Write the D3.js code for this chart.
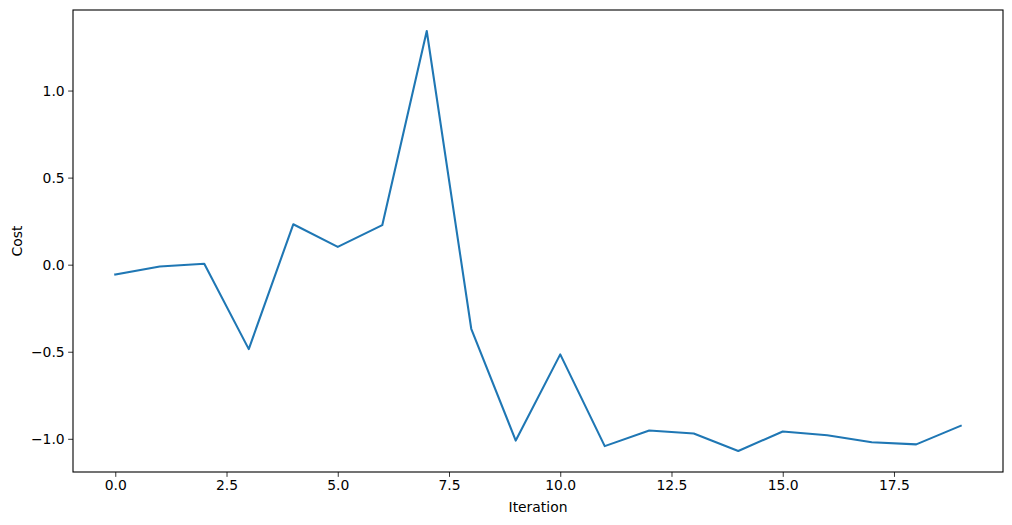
<!DOCTYPE html>
<meta charset="utf-8">
<head>
<style>
  body { margin: 0; background: #fff; }
  svg text { font-family: "DejaVu Sans", sans-serif; fill: #000; }
</style>
</head>
<body>
<div id="vis"></div>
<script src="https://cdn.jsdelivr.net/npm/d3@7"></script>
<script>
// data
var iterations = d3.range(0, 20);
var cost = [-0.056, -0.010, 0.005, -0.485, 0.232, 0.102, 0.227, 1.342, -0.368, -1.010,
            -0.515, -1.042, -0.952, -0.970, -1.070, -0.958, -0.980, -1.020, -1.032, -0.925];
var xTicks = [0, 2.5, 5, 7.5, 10, 12.5, 15, 17.5];
var yTicks = [-1.0, -0.5, 0.0, 0.5, 1.0];

var width = 1012, height = 525;
var margin = {top: 10, left: 73, bottom: 53, right: 9};
var w = width - margin.left - margin.right,
    h = height - margin.top - margin.bottom;

var svg = d3.select("#vis").append("svg")
    .attr("width", width)
    .attr("height", height);

var g = svg.append("g")
    .attr("transform", "translate(" + margin.left + "," + margin.top + ")");

// matplotlib style 5% margins
var xExt = d3.extent(iterations), yExt = d3.extent(cost);
var xPad = (xExt[1] - xExt[0]) * 0.05, yPad = (yExt[1] - yExt[0]) * 0.05;

var x = d3.scaleLinear().domain([xExt[0] - xPad, xExt[1] + xPad]).range([0, w]);
var y = d3.scaleLinear().domain([yExt[0] - yPad, yExt[1] + yPad]).range([h, 0]);

var tickLen = 4.86;

// x axis
var xAxis = g.append("g")
    .attr("transform", "translate(0," + h + ")")
    .call(d3.axisBottom(x).tickValues(xTicks).tickFormat(d3.format(".1f"))
      .tickSize(tickLen).tickPadding(3.5));
xAxis.select(".domain").remove();
xAxis.selectAll("line").attr("stroke", "#000").attr("stroke-width", 0.8);
xAxis.selectAll("text").attr("font-size", "13.9px").attr("font-family", "DejaVu Sans");

// y axis
var yAxis = g.append("g")
    .call(d3.axisLeft(y).tickValues(yTicks).tickFormat(function(d) { return d3.format(".1f")(d).replace("-", "\u2212"); })
      .tickSize(tickLen).tickPadding(3.5));
yAxis.select(".domain").remove();
yAxis.selectAll("line").attr("stroke", "#000").attr("stroke-width", 0.8);
yAxis.selectAll("text").attr("font-size", "13.9px").attr("font-family", "DejaVu Sans");

// the line
var line = d3.line()
    .x(function(d, i) { return x(iterations[i]); })
    .y(function(d) { return y(d); });

g.append("path")
    .datum(cost)
    .attr("fill", "none")
    .attr("stroke", "#1f77b4")
    .attr("stroke-width", 2.08)
    .attr("stroke-linejoin", "round")
    .attr("stroke-linecap", "square")
    .attr("d", line);

// frame
g.append("rect")
    .attr("x", 0).attr("y", 0)
    .attr("width", w).attr("height", h)
    .attr("fill", "none")
    .attr("stroke", "#000")
    .attr("stroke-width", 1.1);

// labels
svg.append("text")
    .attr("text-anchor", "middle")
    .attr("x", margin.left + w / 2)
    .attr("y", 512)
    .attr("font-size", "13.9px")
    .text("Iteration");

svg.append("text")
    .attr("text-anchor", "middle")
    .attr("transform", "translate(22," + (margin.top + h / 2) + ") rotate(-90)")
    .attr("font-size", "13.9px")
    .text("Cost");
</script>
</body>
